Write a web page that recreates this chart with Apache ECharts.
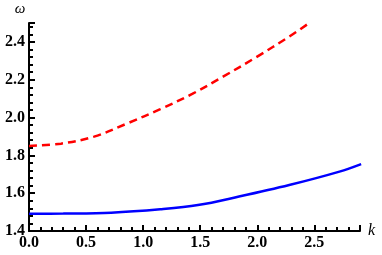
<!DOCTYPE html>
<html>
<head>
<meta charset="utf-8">
<script src="https://cdn.jsdelivr.net/npm/echarts@6/dist/echarts.min.js"></script>
<style>html,body{margin:0;padding:0;background:#fff}#c{width:382px;height:255px}</style>
</head>
<body>
<div id="c"></div>
<script>
const kBlue = [0, 0.3, 0.72, 1.15, 1.48, 1.84, 2.28, 2.72, 2.91];
const wBlue = [1.491, 1.492, 1.497, 1.515, 1.537, 1.582, 1.643, 1.714, 1.754];
const kRed = [0, 0.28, 0.57, 0.865, 1.15, 1.43, 1.70, 1.99, 2.28, 2.455];
const wRed = [1.85, 1.862, 1.899, 1.97, 2.044, 2.125, 2.216, 2.319, 2.428, 2.50];

const chart = echarts.init(document.getElementById('c'), null, {renderer: 'canvas'});
const labelFont = {fontFamily: 'Liberation Serif', fontWeight: 'bold', fontSize: 16, color: '#000'};
chart.setOption({
  animation: false,
  backgroundColor: '#fff',
  grid: {left: 29, right: 22, top: 23, bottom: 24, containLabel: false},
  xAxis: {
    type: 'value', min: 0, max: 2.9, interval: 0.5,
    name: 'k', nameLocation: 'end', nameGap: 8,
    nameTextStyle: {fontFamily: 'Liberation Serif', fontStyle: 'italic', fontSize: 16, color: '#000', verticalAlign: 'middle'},
    axisLine: {show: true, onZero: false, lineStyle: {color: '#000', width: 2}},
    axisTick: {show: true, inside: true, length: 6, lineStyle: {color: '#000', width: 2}},
    minorTick: {show: true, splitNumber: 5, length: 4, lineStyle: {color: '#000', width: 2}},
    splitLine: {show: false},
    axisLabel: Object.assign({margin: 4, showMaxLabel: false,
      formatter: v => v.toFixed(1)}, labelFont)
  },
  yAxis: {
    type: 'value', min: 1.4, max: 2.5, interval: 0.2,
    name: 'ω', nameLocation: 'end', nameGap: 6,
    nameTextStyle: {fontFamily: 'Liberation Serif', fontStyle: 'italic', fontSize: 15, color: '#000', align: 'center', padding: [0, 0, 0, -18]},
    axisLine: {show: true, onZero: false, lineStyle: {color: '#000', width: 2}},
    axisTick: {show: true, inside: true, length: 6, lineStyle: {color: '#000', width: 2}},
    minorTick: {show: true, splitNumber: 5, length: 4, lineStyle: {color: '#000', width: 2}},
    splitLine: {show: false},
    axisLabel: Object.assign({margin: 4, showMaxLabel: false,
      formatter: v => v.toFixed(1)}, labelFont)
  },
  series: [
    {type: 'line', data: kBlue.map((k, i) => [k, wBlue[i]]), smooth: 0.35,
     showSymbol: false, symbol: 'none', lineStyle: {color: '#0000ff', width: 2.5}},
    {type: 'line', data: kRed.map((k, i) => [k, wRed[i]]), smooth: 0.35,
     showSymbol: false, symbol: 'none', lineStyle: {color: '#ff0000', width: 2.5, type: [8, 5]}}
  ]
});
</script>
</body>
</html>
